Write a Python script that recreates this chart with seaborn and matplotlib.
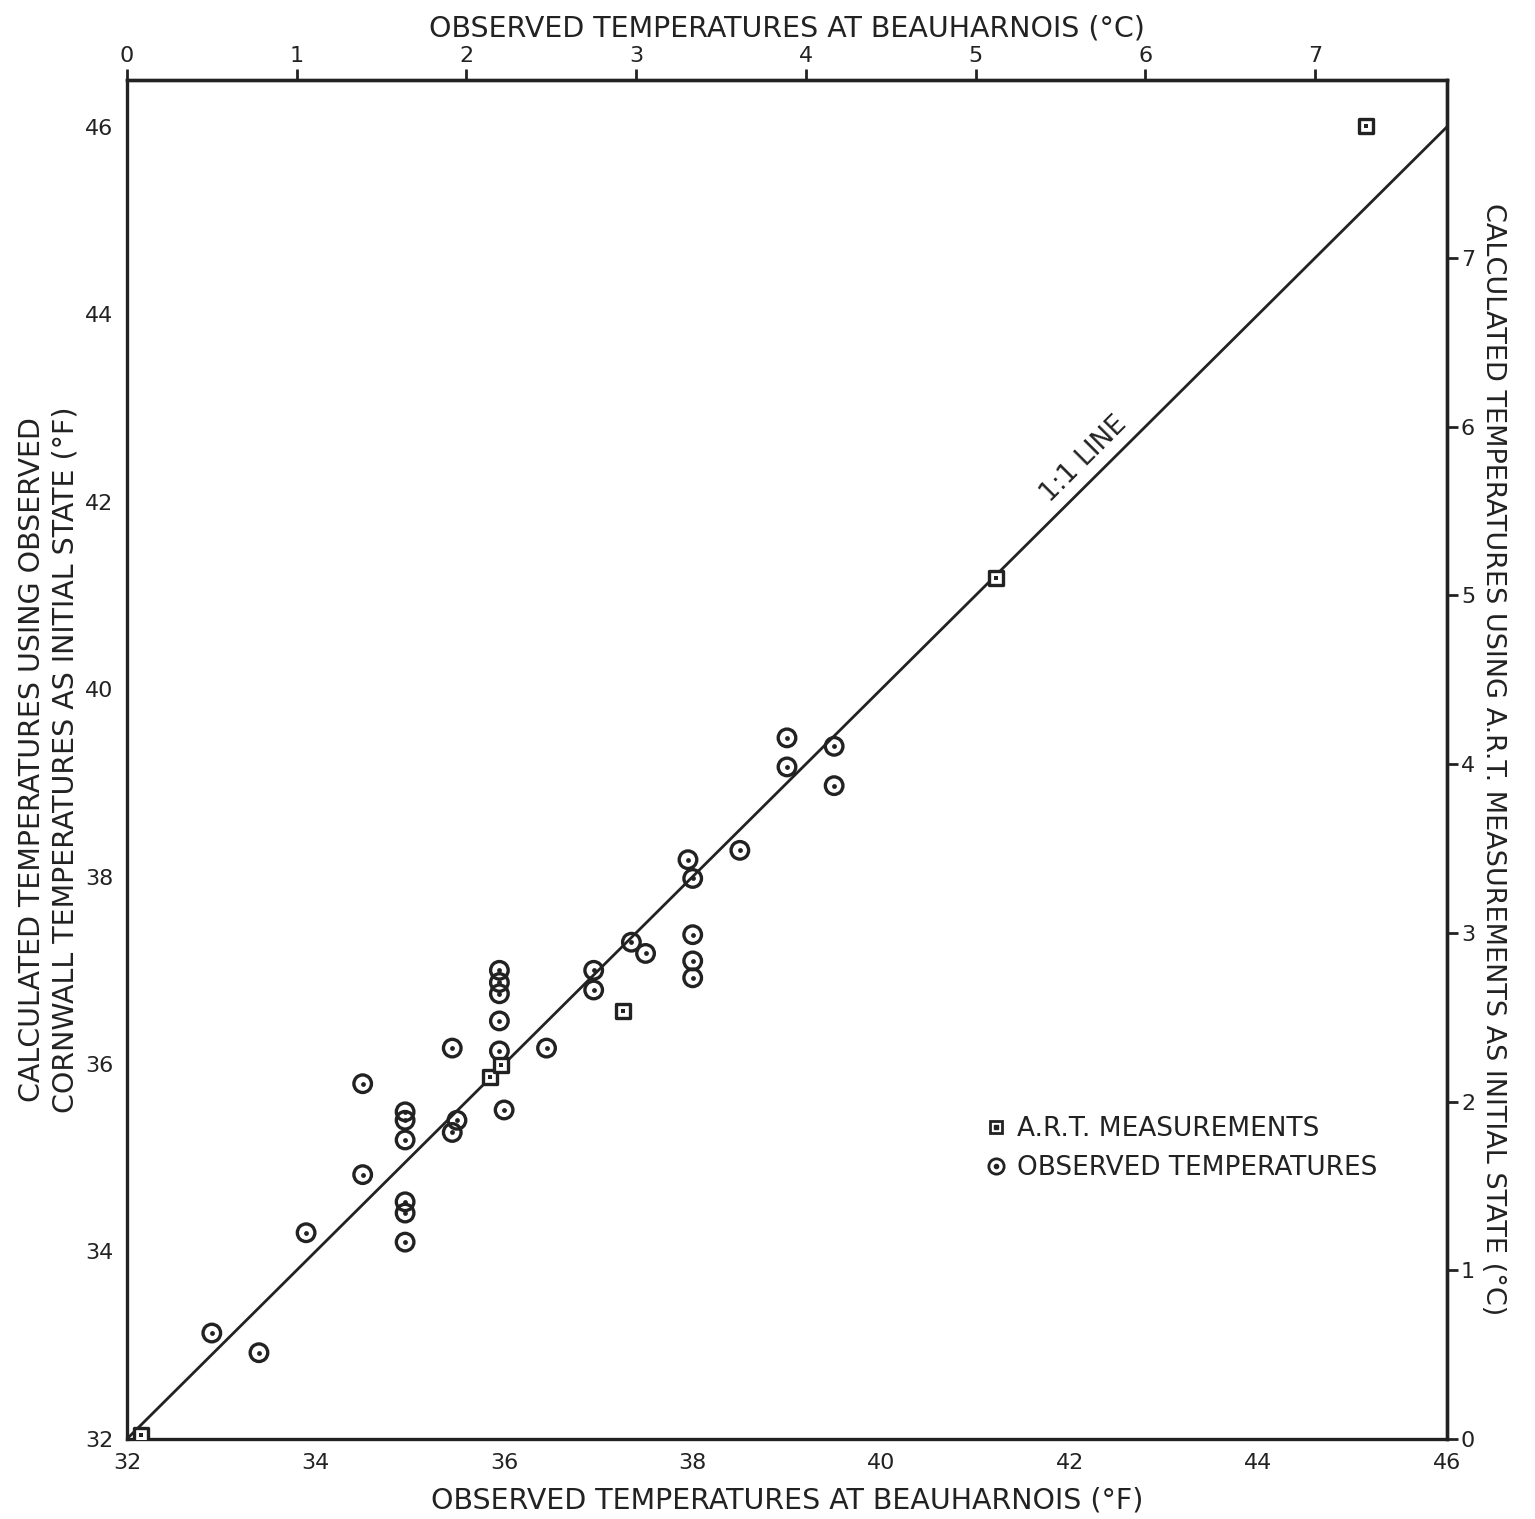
import numpy as np
import pandas as pd
import matplotlib
matplotlib.use("Agg")
import matplotlib.pyplot as plt
import seaborn as sns
from matplotlib.lines import Line2D

# observed temperatures at Beauharnois (F) vs calculated (F)
obs_x = [32.9, 33.4, 33.9, 34.5, 34.5, 34.95, 34.95, 34.95, 34.95, 34.95, 34.95,
         35.45, 35.5, 35.45, 35.95, 35.95, 35.95, 35.95, 35.95, 36.0, 36.45,
         36.95, 36.95, 37.35, 37.5, 37.95, 38.0, 38.0, 38.0, 38.0, 38.5,
         39.0, 39.0, 39.5, 39.5]
obs_y = [33.13, 32.92, 34.20, 35.79, 34.82, 35.49, 35.40, 35.19, 34.53, 34.41, 34.10,
         36.17, 35.40, 35.27, 37.00, 36.87, 36.75, 36.46, 36.14, 35.51, 36.17,
         37.00, 36.79, 37.30, 37.18, 38.18, 37.98, 37.38, 37.10, 36.92, 38.28,
         39.48, 39.17, 39.39, 38.97]

# A.R.T. measurements
art_x = [32.15, 35.85, 35.97, 37.26, 41.22, 45.14]
art_y = [32.04, 35.86, 35.99, 36.57, 41.19, 46.01]

one_to_one = [32, 46]

x_ticks_f = [32, 34, 36, 38, 40, 42, 44, 46]
y_ticks_f = [32, 34, 36, 38, 40, 42, 44, 46]
ticks_c = [0, 1, 2, 3, 4, 5, 6, 7]

ink = "#222222"

sns.set_style("white")
plt.rcParams["font.family"] = ["DejaVu Sans"]

fig = plt.figure(figsize=(15.35, 15.19), dpi=100)
ax = fig.add_axes([0.0827, 0.0527, 0.860, 0.8947])

obs = pd.DataFrame({"x": obs_x, "y": obs_y})
art = pd.DataFrame({"x": art_x, "y": art_y})

ax.plot(one_to_one, one_to_one, color=ink, lw=2.0, zorder=2)

sns.scatterplot(data=obs, x="x", y="y", ax=ax, marker="o", s=160,
                facecolor="none", edgecolor=ink, linewidth=2.4, zorder=3)
sns.scatterplot(data=obs, x="x", y="y", ax=ax, marker="o", s=12,
                color=ink, linewidth=0, zorder=4)
sns.scatterplot(data=art, x="x", y="y", ax=ax, marker="s", s=110,
                facecolor="white", edgecolor=ink, linewidth=2.4, zorder=3)
sns.scatterplot(data=art, x="x", y="y", ax=ax, marker="s", s=12,
                color=ink, linewidth=0, zorder=4)

ax.set_xlim(32, 46)
ax.set_ylim(32, 46.5)
ax.set_xticks(x_ticks_f)
ax.set_yticks(y_ticks_f)
for s in ax.spines.values():
    s.set_color(ink)
    s.set_linewidth(2.4)
tick_kw = dict(direction="out", length=8, width=2, colors=ink, labelsize=16, pad=2)
ax.tick_params(**tick_kw)
ax.set_xlabel("OBSERVED TEMPERATURES AT BEAUHARNOIS (°F)", fontsize=20.5, color=ink)
ax.xaxis.set_label_coords(0.5, -0.035)
ax.set_ylabel("CALCULATED TEMPERATURES USING OBSERVED\nCORNWALL TEMPERATURES AS INITIAL STATE (°F)",
              fontsize=20.5, color=ink, linespacing=1.25)
ax.yaxis.set_label_coords(-0.036, 0.5)

f2c = lambda f: (np.asarray(f) - 32) / 1.8
c2f = lambda c: np.asarray(c) * 1.8 + 32

top = ax.secondary_xaxis("top", functions=(f2c, c2f))
top.set_xticks(ticks_c)
top.tick_params(**tick_kw)
top.set_xlabel("OBSERVED TEMPERATURES AT BEAUHARNOIS (°C)", fontsize=20.5, color=ink, labelpad=7)
top.spines["top"].set_linewidth(2.4)
top.spines["top"].set_color(ink)

right = ax.secondary_yaxis("right", functions=(f2c, c2f))
right.set_yticks(ticks_c)
right.tick_params(**tick_kw)
right.set_ylabel("CALCULATED TEMPERATURES USING A.R.T. MEASUREMENTS AS INITIAL STATE (°C)",
                 fontsize=19.5, color=ink, rotation=-90, labelpad=22)
right.spines["right"].set_linewidth(2.4)
right.spines["right"].set_color(ink)

ax.text(42.15, 42.45, "1:1 LINE", rotation=45, fontsize=19, color=ink,
        ha="center", va="center", rotation_mode="anchor")

h_art = (Line2D([], [], ls="none", marker="s", ms=9, mfc="white", mec=ink, mew=2),
         Line2D([], [], ls="none", marker="s", ms=3, color=ink))
h_obs = (Line2D([], [], ls="none", marker="o", ms=11, mfc="none", mec=ink, mew=2),
         Line2D([], [], ls="none", marker="o", ms=3, color=ink))
ax.legend([h_art, h_obs], ["A.R.T. MEASUREMENTS", "OBSERVED TEMPERATURES"],
          loc="upper left", bbox_to_anchor=(0.632, 0.255), frameon=False,
          fontsize=19, handlelength=0.8, handletextpad=0.4, labelspacing=0.5,
          labelcolor=ink)

fig.savefig("out.png", dpi=100, facecolor="white")
